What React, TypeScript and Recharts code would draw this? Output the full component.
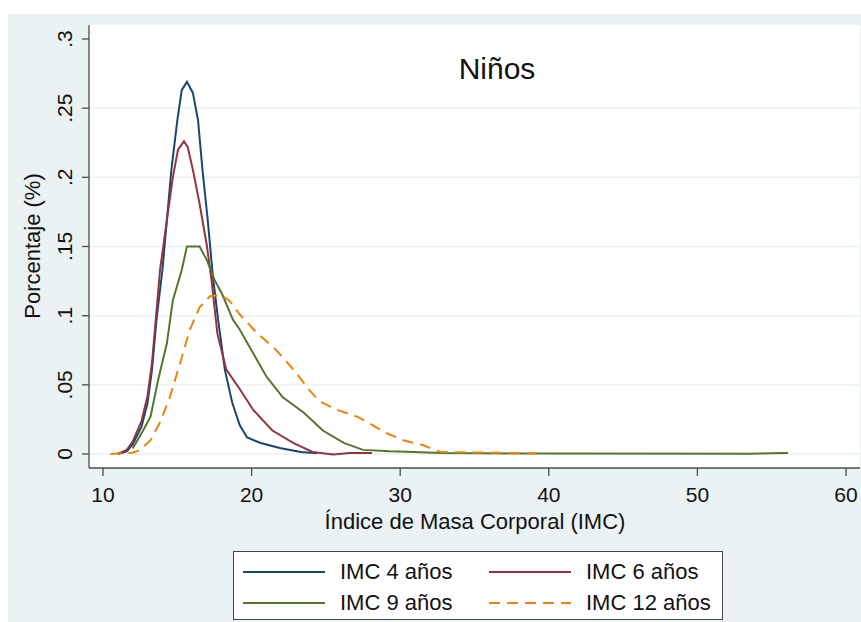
import { LineChart, Line, XAxis, YAxis, CartesianGrid } from 'recharts';

// Curvas de densidad del IMC por edad (niños)
const imc4X = [11.0, 11.6, 12.0, 12.6, 13.0, 13.3, 13.6, 14.0, 14.6, 15.0, 15.3, 15.65, 16.05, 16.4, 16.7, 17.05, 17.4, 17.75, 18.2, 18.7, 19.2, 19.7, 20.6, 21.9, 23.3, 24.4];
const imc4Y = [0.0, 0.002, 0.007, 0.02, 0.037, 0.061, 0.097, 0.133, 0.205, 0.241, 0.263, 0.269, 0.261, 0.241, 0.205, 0.169, 0.128, 0.097, 0.061, 0.037, 0.021, 0.012, 0.008, 0.0043, 0.0015, 0.0005];

const imc6X = [11.0, 11.6, 12.0, 12.6, 13.0, 13.3, 13.84, 14.3, 14.7, 15.05, 15.45, 15.7, 16.06, 16.5, 17.0, 17.3, 17.7, 18.3, 19.2, 20.1, 21.4, 22.8, 24.1, 25.5, 26.6, 28.1];
const imc6Y = [0.0, 0.003, 0.009, 0.024, 0.042, 0.066, 0.133, 0.169, 0.2, 0.22, 0.226, 0.222, 0.205, 0.181, 0.15, 0.126, 0.087, 0.061, 0.047, 0.032, 0.017, 0.008, 0.0015, -0.0003, 0.0008, 0.0008];

const imc9X = [12.0, 12.7, 13.2, 13.7, 14.3, 14.7, 15.3, 15.65, 16.5, 17.0, 17.5, 18.0, 18.75, 19.2, 20.1, 21.0, 22.1, 23.5, 24.8, 26.2, 27.5, 29.3, 30.9, 32.7, 40.0, 53.5, 56.1];
const imc9Y = [0.004, 0.017, 0.027, 0.053, 0.08, 0.111, 0.133, 0.15, 0.15, 0.14, 0.126, 0.116, 0.097, 0.09, 0.073, 0.056, 0.041, 0.03, 0.017, 0.008, 0.003, 0.002, 0.0015, 0.0007, 0.0003, 0.0002, 0.0008];

const imc12X = [10.5, 12.0, 12.5, 13.2, 13.8, 14.5, 15.2, 15.85, 16.5, 17.2, 17.9, 18.5, 19.2, 20.4, 21.4, 22.1, 23.05, 23.9, 24.6, 25.75, 27.1, 27.97, 29.1, 30.2, 31.5, 32.7, 39.2];
const imc12Y = [0.0, 0.001, 0.003, 0.01, 0.022, 0.041, 0.066, 0.09, 0.106, 0.114, 0.115, 0.111, 0.101, 0.087, 0.078, 0.07, 0.058, 0.046, 0.038, 0.032, 0.027, 0.022, 0.015, 0.01, 0.0065, 0.0015, 0.0005];

const xTicks = [10, 20, 30, 40, 50, 60];
const yTicks = [0, 0.05, 0.1, 0.15, 0.2, 0.25, 0.3];
const yTickLabels = ['0', '.05', '.1', '.15', '.2', '.25', '.3'];
const gridValues = [0, 0.05, 0.1, 0.15, 0.2, 0.25];

const toPoints = (xs: number[], ys: number[]) => xs.map((x, i) => ({ x, y: ys[i] }));

const series = [
  { name: 'IMC 4 años', data: toPoints(imc4X, imc4Y), color: '#1a476f', dash: undefined },
  { name: 'IMC 6 años', data: toPoints(imc6X, imc6Y), color: '#90353b', dash: undefined },
  { name: 'IMC 9 años', data: toPoints(imc9X, imc9Y), color: '#55752f', dash: undefined },
  { name: 'IMC 12 años', data: toPoints(imc12X, imc12Y), color: '#e8850c', dash: '11 7' },
];

const FONT = '"Liberation Sans", Arial, sans-serif';
const AXIS = '#4a4a4a';

const YTick = (props: any) => {
  const { x, y, payload } = props;
  const idx = yTicks.indexOf(payload.value);
  return (
    <text
      transform={`translate(${x - 8},${y}) rotate(-90)`}
      textAnchor="middle"
      fontSize={21}
      fontFamily={FONT}
      fill="#111"
    >
      {idx >= 0 ? yTickLabels[idx] : payload.value}
    </text>
  );
};

const XTick = (props: any) => {
  const { x, y, payload } = props;
  return (
    <text x={x} y={y + 24} textAnchor="middle" fontSize={21} fontFamily={FONT} fill="#111">
      {payload.value}
    </text>
  );
};

const LegendBox = () => {
  const rows = [
    [series[0], series[1]],
    [series[2], series[3]],
  ];
  return (
    <div
      style={{
        position: 'absolute',
        left: 225,
        top: 537,
        width: 488,
        height: 67,
        background: '#fff',
        border: '1px solid #444',
        fontFamily: FONT,
        fontSize: 22,
        color: '#111',
      }}
    >
      {rows.map((row, r) =>
        row.map((s, c) => (
          <div
            key={s.name}
            style={{
              position: 'absolute',
              left: c === 0 ? 9 : 255,
              top: r === 0 ? 8 : 39,
              height: 24,
              display: 'flex',
              alignItems: 'center',
              whiteSpace: 'nowrap',
            }}
          >
            <svg width={82} height={4} style={{ marginRight: 15 }}>
              <line x1={0} y1={2} x2={82} y2={2} stroke={s.color} strokeWidth={2} strokeDasharray={s.dash} />
            </svg>
            <span style={{ lineHeight: '24px' }}>{s.name}</span>
          </div>
        ))
      )}
    </div>
  );
};

export default function App() {
  return (
    <div
      style={{
        position: 'fixed',
        left: 8,
        top: 14,
        width: 853,
        height: 608,
        background: '#eaf2f3',
      }}
    >
      <LineChart width={853} height={608} margin={{ top: 11, right: 1, bottom: 94, left: 0 }}>
        <CartesianGrid
          fill="#fff"
          vertical={false}
          stroke="#eaf2f3"
          strokeOpacity={1}
          strokeWidth={1.5}
          horizontalValues={gridValues}
        />
        <XAxis
          type="number"
          dataKey="x"
          domain={[9.06, 60.94]}
          ticks={xTicks}
          allowDataOverflow
          height={60}
          tickSize={8}
          tickMargin={2}
          tick={<XTick />}
          axisLine={{ stroke: AXIS, strokeWidth: 1.3 }}
          tickLine={{ stroke: AXIS, strokeWidth: 1.3 }}
        />
        <YAxis
          type="number"
          dataKey="y"
          domain={[-0.0101, 0.3101]}
          ticks={yTicks}
          allowDataOverflow
          width={81}
          tickSize={7}
          tickMargin={2}
          tick={<YTick />}
          axisLine={{ stroke: AXIS, strokeWidth: 1.3 }}
          tickLine={{ stroke: AXIS, strokeWidth: 1.3 }}
        />
        {series.map((s) => (
          <Line
            key={s.name}
            data={s.data}
            dataKey="y"
            name={s.name}
            type="linear"
            stroke={s.color}
            strokeWidth={2}
            strokeDasharray={s.dash}
            dot={false}
            activeDot={false}
            isAnimationActive={false}
          />
        ))}
      </LineChart>

      <div
        style={{
          position: 'absolute',
          left: 389,
          top: 40,
          width: 200,
          textAlign: 'center',
          fontFamily: FONT,
          fontSize: 30,
          lineHeight: '30px',
          color: '#111',
        }}
      >
        Niños
      </div>

      <div
        style={{
          position: 'absolute',
          left: 267,
          top: 497,
          width: 400,
          textAlign: 'center',
          fontFamily: FONT,
          fontSize: 22,
          lineHeight: '22px',
          color: '#111',
        }}
      >
        Índice de Masa Corporal (IMC)
      </div>

      <div
        style={{
          position: 'absolute',
          left: 25 - 100,
          top: 232 - 11,
          width: 200,
          textAlign: 'center',
          fontFamily: FONT,
          fontSize: 22,
          lineHeight: '22px',
          color: '#111',
          transform: 'rotate(-90deg)',
        }}
      >
        Porcentaje (%)
      </div>

      <LegendBox />
    </div>
  );
}
